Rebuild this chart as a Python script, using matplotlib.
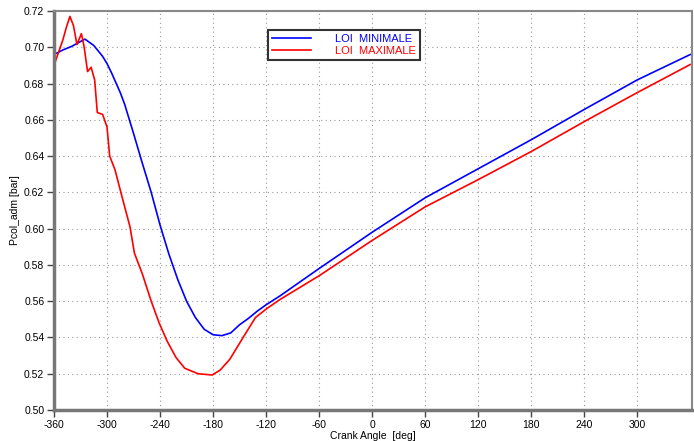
import matplotlib.pyplot as plt

# LOI MINIMALE (blue)
ang_min = [-360, -350, -340, -325, -315, -305, -300, -295, -290, -285, -280,
           -270, -260, -250, -240, -230, -220, -210, -200, -190, -180, -170,
           -160, -150, -140, -130, -120, -104, -60, 0, 60, 120, 180, 240, 300,
           360]
p_min = [0.696, 0.6985, 0.7005, 0.7045, 0.701, 0.695, 0.691, 0.686, 0.6805,
         0.675, 0.6685, 0.6525, 0.636, 0.620, 0.602, 0.586, 0.572, 0.560,
         0.551, 0.5445, 0.5415, 0.541, 0.5425, 0.547, 0.5505, 0.5545, 0.558,
         0.563, 0.578, 0.598, 0.617, 0.633, 0.649, 0.6657, 0.682, 0.696]

# LOI MAXIMALE (red)
ang_max = [-360, -355, -350, -346, -342, -338, -334, -329, -326, -322, -318,
           -314, -311, -305, -300, -297, -291, -283, -274, -269, -260, -250,
           -241, -232, -222, -212, -197, -181, -172, -161, -146, -132, -119,
           -104, -60, 0, 60, 120, 180, 240, 300, 360]
p_max = [0.690, 0.697, 0.704, 0.711, 0.717, 0.712, 0.7015, 0.7075, 0.7005,
         0.6866, 0.689, 0.682, 0.664, 0.663, 0.656, 0.640, 0.6325, 0.6175,
         0.601, 0.5865, 0.575, 0.560, 0.548, 0.538, 0.529, 0.523, 0.520,
         0.5193, 0.522, 0.528, 0.540, 0.551, 0.556, 0.561, 0.574, 0.5935,
         0.612, 0.627, 0.6425, 0.659, 0.675, 0.6905]

x_ticks = [-360, -300, -240, -180, -120, -60, 0, 60, 120, 180, 240, 300]
y_ticks = [0.50, 0.52, 0.54, 0.56, 0.58, 0.60, 0.62, 0.64, 0.66, 0.68, 0.70, 0.72]

plt.rcParams['font.family'] = ['Liberation Sans', 'DejaVu Sans']
plt.rcParams['font.size'] = 7.5
plt.rcParams['axes.unicode_minus'] = False

fig = plt.figure(figsize=(6.94, 4.41), dpi=100)
ax = fig.add_axes([54 / 694, 1 - 410 / 441, 638 / 694, 399 / 441])

ax.plot(ang_min, p_min, color='#0000ff', lw=1.2, label='LOI  MINIMALE')
ax.plot(ang_max, p_max, color='#ff0000', lw=1.2, label='LOI  MAXIMALE')

ax.set_xlim(-360, 362)
ax.set_ylim(0.50, 0.72)
ax.set_xticks(x_ticks)
ax.set_yticks(y_ticks)
ax.set_yticklabels([f"{v:.2f}" for v in y_ticks])
ax.tick_params(direction='out', length=5, width=1, color='#444444', pad=2)
ax.grid(True, linestyle=(0, (1, 3)), color='#999999', lw=0.8)

for side in ['left', 'bottom']:
    ax.spines[side].set_linewidth(2.5)
    ax.spines[side].set_color('#777777')
for side in ['top', 'right']:
    ax.spines[side].set_linewidth(1.5)
    ax.spines[side].set_color('#888888')

ax.set_xlabel('Crank Angle  [deg]', labelpad=1)
ax.set_ylabel('Pcol_adm [bar]', labelpad=3)

leg = ax.legend(loc='upper left', bbox_to_anchor=(0.335, 0.952), borderaxespad=0,
                fancybox=False, framealpha=1, edgecolor='#333333',
                handlelength=3.5, handletextpad=2.2, borderpad=0.35,
                labelspacing=0.15, fontsize=8)
leg.get_frame().set_linewidth(1.5)
for txt, c in zip(leg.get_texts(), ['#0000ff', '#ff0000']):
    txt.set_color(c)

fig.savefig('out.png', dpi=100, facecolor='white')
